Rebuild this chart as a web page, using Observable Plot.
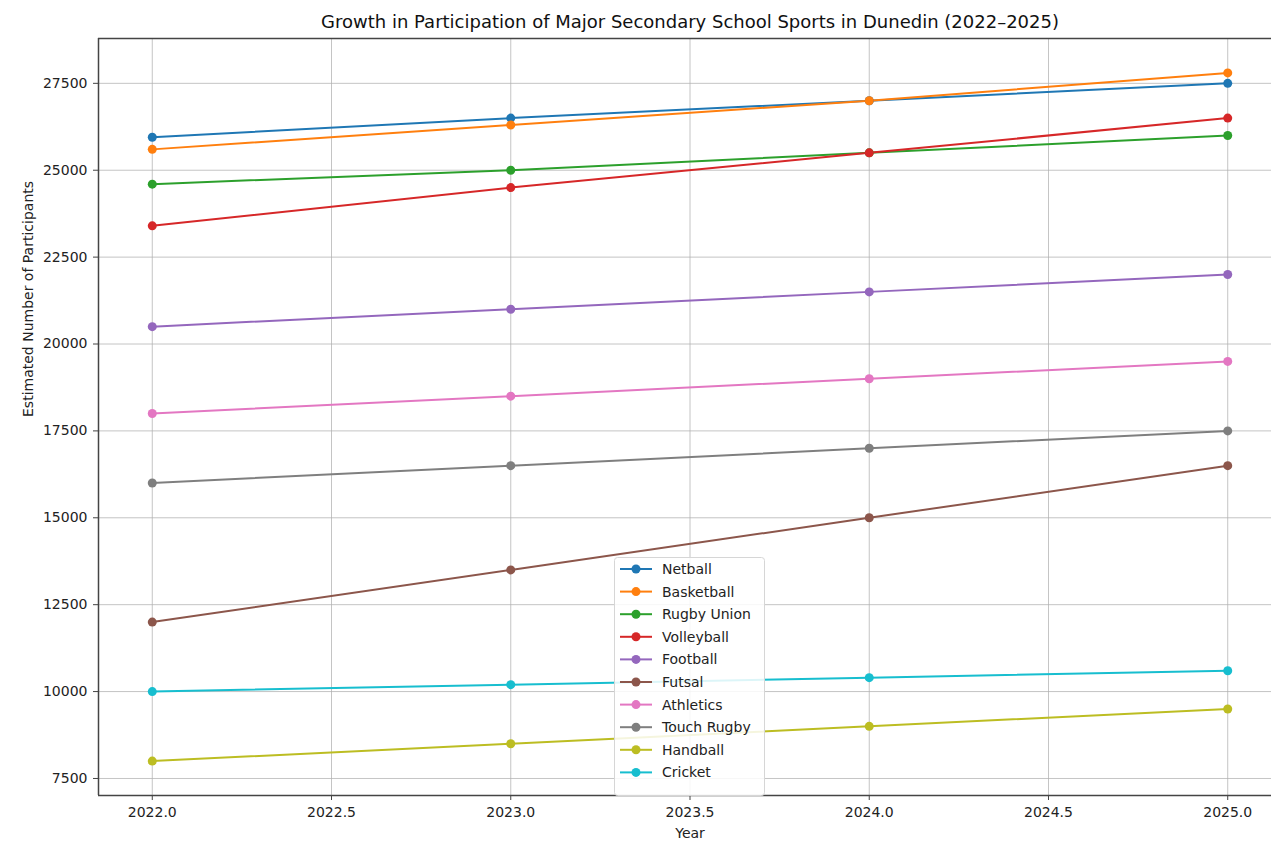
<!DOCTYPE html>
<html>
<head>
<meta charset="utf-8">
<script src="https://cdn.jsdelivr.net/npm/d3@7"></script>
<script src="https://cdn.jsdelivr.net/npm/@observablehq/plot@0.6"></script>
<style>
  html, body { margin: 0; padding: 0; background: #fff; }
  #wrap { position: relative; width: 1271px; height: 843px; overflow: hidden; font-family: "DejaVu Sans", sans-serif; }
  #legend { position: absolute; }
</style>
</head>
<body>
<div id="wrap"></div>
<script>
// Participation estimates per sport, one series per sport
const years = [2022, 2023, 2024, 2025];
const sports = ["Netball", "Basketball", "Rugby Union", "Volleyball", "Football",
                "Futsal", "Athletics", "Touch Rugby", "Handball", "Cricket"];
const netball     = [25950, 26500, 27000, 27500];
const basketball  = [25600, 26300, 27000, 27800];
const rugbyUnion  = [24600, 25000, 25500, 26000];
const volleyball  = [23400, 24500, 25500, 26500];
const football    = [20500, 21000, 21500, 22000];
const futsal      = [12000, 13500, 15000, 16500];
const athletics   = [18000, 18500, 19000, 19500];
const touchRugby  = [16000, 16500, 17000, 17500];
const handball    = [8000, 8500, 9000, 9500];
const cricket     = [10000, 10200, 10400, 10600];
const seriesValues = [netball, basketball, rugbyUnion, volleyball, football,
                      futsal, athletics, touchRugby, handball, cricket];
const colors = ["#1f77b4", "#ff7f0e", "#2ca02c", "#d62728", "#9467bd",
                "#8c564b", "#e377c2", "#7f7f7f", "#bcbd22", "#17becf"];
const xTicks = [2022.0, 2022.5, 2023.0, 2023.5, 2024.0, 2024.5, 2025.0];
const yTicks = [7500, 10000, 12500, 15000, 17500, 20000, 22500, 25000, 27500];
const titleText = "Growth in Participation of Major Secondary School Sports in Dunedin (2022\u20132025)";
const xLabel = "Year";
const yLabel = "Estimated Number of Participants";

const rows = sports.flatMap((sport, i) =>
  years.map((year, j) => ({ sport, year, value: seriesValues[i][j] })));

// padded domains (5% each side of the data extent)
const xExt = d3.extent(years), yExt = d3.extent(rows, d => d.value);
const xPad = (xExt[1] - xExt[0]) * 0.05, yPad = (yExt[1] - yExt[0]) * 0.05;
const xDomain = [xExt[0] - xPad, xExt[1] + xPad];
const yDomain = [yExt[0] - yPad, yExt[1] + yPad];
const xMid = (xDomain[0] + xDomain[1]) / 2;

const W = 1271, H = 843;
const mLeft = 98, mTop = 38, mBottom = 48;
const plotRight = 1281; // axes extend slightly past the page edge

const fontSize = 14;
const spine = "#444";

const chart = Plot.plot({
  width: W,
  height: H,
  marginLeft: mLeft,
  marginRight: 0,
  marginTop: mTop,
  marginBottom: mBottom,
  style: { fontFamily: "DejaVu Sans, sans-serif", fontSize: fontSize + "px", color: "#222", background: "white" },
  x: { domain: xDomain, range: [mLeft, plotRight] },
  y: { domain: yDomain, range: [H - mBottom, mTop] },
  color: { domain: sports, range: colors },
  marks: [
    Plot.gridX(xTicks, { stroke: "#b0b0b0", strokeOpacity: 0.75, strokeWidth: 1 }),
    Plot.gridY(yTicks, { stroke: "#b0b0b0", strokeOpacity: 0.75, strokeWidth: 1 }),
    Plot.ruleX([xDomain[0]], { stroke: spine, strokeWidth: 1.5 }),
    Plot.ruleY([yDomain[0]], { stroke: spine, strokeWidth: 1.5 }),
    Plot.ruleY([yDomain[1]], { stroke: spine, strokeWidth: 1.5 }),
    Plot.axisX(xTicks, { tickFormat: d => d.toFixed(1), tickSize: 5, tickPadding: 7, label: null, stroke: spine, fontSize }),
    Plot.axisY(yTicks, { tickFormat: d => String(d), tickSize: 5, tickPadding: 6, label: null, stroke: spine, fontSize }),
    Plot.line(rows, { x: "year", y: "value", z: "sport", stroke: "sport", strokeWidth: 2 }),
    Plot.dot(rows, { x: "year", y: "value", fill: "sport", r: 4.5 }),
    Plot.text([titleText], { x: () => xMid, frameAnchor: "top", lineAnchor: "middle", dy: -16, fontSize: 18, fill: "#111" }),
    Plot.text([xLabel], { x: () => xMid, frameAnchor: "bottom", lineAnchor: "middle", dy: 38, fontSize, fill: "#222" }),
    Plot.text([yLabel], { frameAnchor: "left", dx: -70, rotate: -90, fontSize, fill: "#222" })
  ]
});

const wrap = document.getElementById("wrap");
wrap.appendChild(chart);

// legend box placed inside the axes
const color = chart.scale("color");
const lg = { left: 614, top: 557, w: 150, rowH: 22.6, pad: 12 };
const lgH = lg.pad + sports.length * lg.rowH;
const legend = d3.select(wrap).append("svg")
  .attr("id", "legend")
  .attr("width", lg.w + 2).attr("height", lgH + 2)
  .style("left", lg.left + "px").style("top", lg.top + "px");
legend.append("rect")
  .attr("x", 0.5).attr("y", 0.5).attr("width", lg.w).attr("height", lgH)
  .attr("rx", 3).attr("fill", "white").attr("fill-opacity", 0.85)
  .attr("stroke", "#d6d6d6");
const items = legend.selectAll("g").data(sports).join("g")
  .attr("transform", (d, i) => `translate(0,${12 + i * lg.rowH})`);
items.append("line").attr("x1", 6).attr("x2", 38).attr("y1", 0).attr("y2", 0)
  .attr("stroke", d => color.apply(d)).attr("stroke-width", 2);
items.append("circle").attr("cx", 22).attr("cy", 0).attr("r", 4.5)
  .attr("fill", d => color.apply(d));
items.append("text").attr("x", 48).attr("y", 0).attr("dy", "0.35em")
  .attr("font-family", "DejaVu Sans, sans-serif").attr("font-size", fontSize)
  .attr("fill", "#222").text(d => d);
</script>
</body>
</html>
